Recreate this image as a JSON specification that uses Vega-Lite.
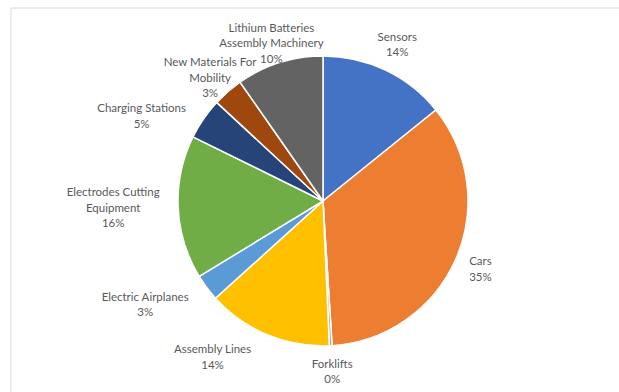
{
  "$schema": "https://vega.github.io/schema/vega-lite/v6.json",
  "autosize": "none",
  "padding": {"left": 11, "top": 8, "right": 0, "bottom": 0},
  "width": 624,
  "height": 386,
  "background": "white",
  "config": {"view": {"stroke": null}},
  "data": {
    "values": [
      {"name": "Sensors", "value": 14.2},
      {"name": "Cars", "value": 34.8},
      {"name": "Forklifts", "value": 0.3},
      {"name": "Assembly Lines", "value": 14.0},
      {"name": "Electric Airplanes", "value": 3.0},
      {"name": "Electrodes Cutting\nEquipment", "value": 16.0},
      {"name": "Charging Stations", "value": 4.6},
      {"name": "New Materials For\nMobility", "value": 3.4},
      {"name": "Lithium Batteries\nAssembly Machinery", "value": 9.7}
    ]
  },
  "transform": [
    {"window": [{"op": "row_number", "as": "idx"}]},
    {"joinaggregate": [{"op": "sum", "field": "value", "as": "total"}]},
    {"stack": "value", "groupby": [], "sort": [{"field": "idx", "order": "ascending"}], "as": ["v0", "v1"]},
    {"calculate": "(datum.v0 + datum.v1) / 2", "as": "mid"},
    {"calculate": "indexof(datum.name, '\\n') >= 0 ? 3 : 2", "as": "lines"},
    {"calculate": "datum.name + '\\n' + format(datum.value / datum.total, '.0%')", "as": "label"}
  ],
  "layer": [
    {
      "transform": [{"filter": "datum.idx == 1"}],
      "mark": {"type": "rect", "fill": "transparent", "stroke": "#D9D9D9", "strokeWidth": 1},
      "encoding": {}
    },
    {
      "mark": {"type": "arc", "outerRadius": 145, "stroke": "white", "strokeWidth": 1.5},
      "encoding": {
        "theta": {"field": "v0", "type": "quantitative", "scale": {"domain": [0, 100]}},
        "theta2": {"field": "v1"},
        "color": {
          "field": "name",
          "type": "nominal",
          "scale": {
            "domain": ["Sensors", "Cars", "Forklifts", "Assembly Lines", "Electric Airplanes", "Electrodes Cutting\nEquipment", "Charging Stations", "New Materials For\nMobility", "Lithium Batteries\nAssembly Machinery"],
            "range": ["#4472C4", "#ED7D31", "#A5A5A5", "#FFC000", "#5B9BD5", "#70AD47", "#264478", "#9E480E", "#636363"]
          },
          "legend": null
        }
      }
    },
    {
      "transform": [{"filter": "datum.mid < 50 || datum.mid > 86"}],
      "mark": {"type": "text", "radius": 172, "dy": -8, "align": "center", "baseline": "middle", "lineBreak": "\n", "lineHeight": 15.5, "font": "Lato", "fontSize": 11.5, "color": "#595959"},
      "encoding": {
        "theta": {"field": "mid", "type": "quantitative", "stack": null, "scale": {"domain": [0, 100]}},
        "text": {"field": "label"}
      }
    },
    {
      "transform": [{"filter": "datum.mid >= 50 && datum.mid <= 86 && datum.lines == 2"}],
      "mark": {"type": "text", "radius": 162, "dx": -48, "align": "center", "baseline": "middle", "lineBreak": "\n", "lineHeight": 15.5, "font": "Lato", "fontSize": 11.5, "color": "#595959"},
      "encoding": {
        "theta": {"field": "mid", "type": "quantitative", "stack": null, "scale": {"domain": [0, 100]}},
        "text": {"field": "label"}
      }
    },
    {
      "transform": [{"filter": "datum.mid >= 50 && datum.mid <= 86 && datum.lines == 3"}],
      "mark": {"type": "text", "radius": 162, "dx": -48, "dy": -15, "align": "center", "baseline": "middle", "lineBreak": "\n", "lineHeight": 15.5, "font": "Lato", "fontSize": 11.5, "color": "#595959"},
      "encoding": {
        "theta": {"field": "mid", "type": "quantitative", "stack": null, "scale": {"domain": [0, 100]}},
        "text": {"field": "label"}
      }
    }
  ]
}
